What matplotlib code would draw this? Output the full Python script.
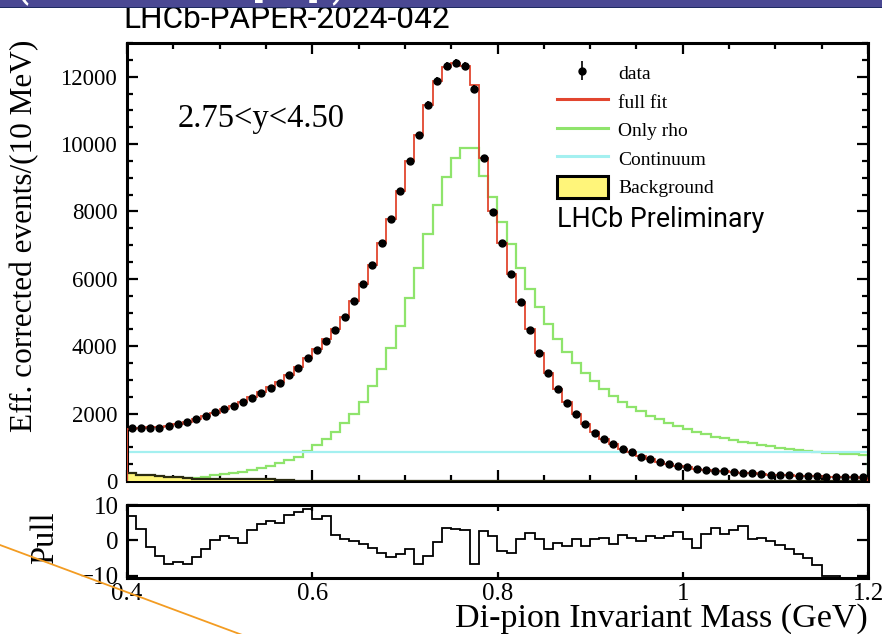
import numpy as np
import matplotlib
matplotlib.use("Agg")
import matplotlib.pyplot as plt
from matplotlib.lines import Line2D
from matplotlib.patches import Patch, Rectangle
from matplotlib.ticker import MultipleLocator, FixedLocator

# ---------------- data (10 MeV bins from 0.40 to 1.20 GeV) ----------------
mass_lo, mass_hi, n_bins = 0.40, 1.20, 80

data = [1564, 1564, 1582, 1582, 1641, 1691, 1742, 1840, 1938, 2036,
        2136, 2234, 2335, 2472, 2620, 2769, 2917, 3145, 3344, 3641,
        3887, 4163, 4481, 4858, 5341, 5837, 6409, 7053, 7774, 8614,
        9496, 10267, 11157, 11878, 12315, 12412, 12329, 11641, 9585, 7973,
        7053, 6133, 5303, 4481, 3789, 3196, 2721, 2323, 1988, 1691,
        1433, 1255, 1098, 950, 861, 721, 653, 564, 513, 454,
        407, 356, 326, 306, 288, 267, 246, 228, 208, 187,
        178, 169, 157, 148, 139, 128, 128, 119, 119, 110]

data_err = [45, 45, 45, 45, 46, 46, 47, 48, 49, 50,
            52, 53, 54, 56, 57, 59, 60, 62, 64, 66,
            68, 70, 72, 75, 78, 81, 84, 88, 92, 96,
            100, 104, 108, 111, 113, 114, 113, 110, 100, 92,
            86, 80, 75, 69, 63, 58, 54, 50, 47, 44,
            41, 39, 37, 35, 34, 32, 31, 30, 29, 28,
            27, 26, 25, 24, 24, 23, 22, 22, 21, 20,
            20, 19, 19, 18, 18, 17, 17, 16, 16, 15]

full_fit = [1540, 1570, 1590, 1610, 1645, 1690, 1740, 1830, 1925, 2030,
            2130, 2240, 2350, 2480, 2630, 2780, 2950, 3150, 3370, 3640,
            3920, 4200, 4520, 4880, 5340, 5850, 6420, 7060, 7780, 8620,
            9500, 10280, 11150, 11880, 12300, 12400, 12320, 11750, 9600, 8000,
            7060, 6140, 5310, 4500, 3800, 3210, 2730, 2330, 1990, 1700,
            1440, 1260, 1100, 960, 860, 730, 650, 570, 510, 455,
            405, 360, 325, 305, 285, 265, 248, 228, 210, 190,
            178, 168, 158, 148, 138, 128, 120, 112, 105, 98]

only_rho = [15, 20, 25, 35, 45, 60, 75, 100, 130, 165,
            200, 240, 280, 330, 385, 450, 525, 610, 720, 880,
            1060, 1246, 1464, 1711, 1988, 2354, 2819, 3314, 3937, 4600,
            5440, 6330, 7320, 8190, 9030, 9594, 9890, 9890, 9050, 8436,
            7677, 7024, 6312, 5688, 5154, 4659, 4214, 3837, 3492, 3196,
            2967, 2721, 2522, 2353, 2205, 2077, 1938, 1831, 1731, 1642,
            1543, 1454, 1385, 1315, 1267, 1217, 1157, 1118, 1068, 1029,
            988, 959, 920, 890, 860, 840, 820, 805, 790, 772]

continuum = [870] * n_bins

background = [250, 190, 170, 140, 125, 110, 100, 60, 58, 56,
              55, 54, 52, 50, 48, 46, 44, 42] + [0] * 62

pull = [6.9, 3.3, -1.9, -4.3, -6.7, -6.2, -6.7, -4.8, -2.4, 0.2,
        1.2, 0.8, -0.7, 2.9, 4.5, 5.4, 5.0, 7.3, 8.1, 9.0,
        6.0, 6.9, 1.6, 0.5, -0.3, -1.0, -2.1, -3.5, -4.8, -3.8,
        -2.4, -6.7, -4.5, -0.5, 3.6, 3.3, 2.9, -6.7, 2.7, 1.3,
        -2.9, -3.5, 0.5, 2.2, 0.5, -2.4, -0.8, -1.6, 0.3, -1.6,
        0.3, 0.8, -1.1, 1.4, 0.8, -0.2, 1.2, 0.8, 1.2, 2.4,
        0.5, -2.1, 1.9, 3.6, 1.7, 2.9, 4.1, 0.5, 0.8, -0.2,
        -1.2, -2.4, -3.8, -4.9, -6.9, -10.0, -10.0, -12.0, -12.0, -12.0]

x_tick_vals = [0.4, 0.6, 0.8, 1.0, 1.2]
x_tick_labels = ["0.4", "0.6", "0.8", "1", "1.2"]
y_tick_vals = [0, 2000, 4000, 6000, 8000, 10000, 12000]
pull_tick_vals = [-10, 0, 10]

# ---------------- figure ----------------
W, H = 882, 634
fig = plt.figure(figsize=(W / 100, H / 100), dpi=100)
fig.patch.set_facecolor("white")
SERIF = ["Liberation Serif", "DejaVu Serif"]
SANS = ["Roboto", "DejaVu Sans"]

def fx(px):
    return px / W

def fy(py):
    return 1 - py / H

ax = fig.add_axes([fx(127), fy(481), fx(868) - fx(127), fy(43) - fy(481)])
axp = fig.add_axes([fx(127), fy(577.5), fx(868) - fx(127), fy(505) - fy(577.5)])

edges = np.linspace(mass_lo, mass_hi, n_bins + 1)
centers = 0.5 * (edges[:-1] + edges[1:])

red = "#e2462f"
green = "#8fe46c"
cyan = "#a4f0f0"
yellow = "#fff57a"

ax.stairs(only_rho, edges, baseline=0, color=green, lw=1.6, zorder=2)
ax.stairs(continuum, edges, baseline=0, color=cyan, lw=1.6, zorder=2)
ax.stairs(background, edges, baseline=0, fill=True, facecolor=yellow, zorder=3)
ax.stairs(background, edges, baseline=0, color="#2b2b10", lw=1.6, zorder=3)
ax.stairs(full_fit, edges, baseline=0, color=red, lw=1.3, zorder=4)
eb = ax.errorbar(centers, data, yerr=data_err, fmt="o", color="black", ms=5.0,
                 elinewidth=1.2, capsize=0, zorder=5)

ax.set_xlim(mass_lo, mass_hi)
ax.set_ylim(0, 13000)
ax.xaxis.set_major_locator(FixedLocator(x_tick_vals))
ax.xaxis.set_minor_locator(MultipleLocator(0.05))
ax.yaxis.set_major_locator(FixedLocator(y_tick_vals))
ax.yaxis.set_minor_locator(MultipleLocator(500))
ax.tick_params(which="both", direction="in", top=True, right=True,
               labelbottom=False, width=1.6)
ax.tick_params(which="major", length=8)
ax.tick_params(which="minor", length=4.5)
ax.tick_params(axis="y", labelsize=16.5, pad=7)
for lab in ax.get_yticklabels():
    lab.set_family(SERIF)
for s in ax.spines.values():
    s.set_linewidth(2.2)

# legend
handles = [eb,
           Line2D([], [], color=red, lw=2.2),
           Line2D([], [], color=green, lw=2.2),
           Line2D([], [], color=cyan, lw=2.2),
           Patch(facecolor=yellow, edgecolor="black", lw=2.2)]
labels = ["data", "full fit", "Only rho", "Continuum", "Background"]
leg = fig.legend(handles, labels, loc="upper left",
                 bbox_to_anchor=(fx(557), fy(62)), frameon=False,
                 prop={"family": SERIF, "size": 14}, handlelength=2.6,
                 handleheight=1.3, handletextpad=0.55, labelspacing=0.38,
                 borderpad=0, borderaxespad=0)

fig.text(fx(178), fy(119), "2.75<y<4.50", family=SERIF, fontsize=23.5,
         va="center", ha="left")
fig.text(fx(557), fy(219), "LHCb Preliminary", family=SANS, fontsize=19.3,
         va="center", ha="left")

# pull panel
axp.stairs(pull, edges, baseline=0, color="black", lw=1.3)
axp.set_xlim(mass_lo, mass_hi)
axp.set_ylim(-10.5, 10)
axp.xaxis.set_major_locator(FixedLocator(x_tick_vals))
axp.set_xticklabels(x_tick_labels)
axp.yaxis.set_major_locator(FixedLocator(pull_tick_vals))
axp.tick_params(which="both", direction="in", top=True, right=True, width=1.6)
axp.tick_params(axis="x", length=4, labelsize=18, pad=4)
axp.tick_params(axis="y", length=8, labelsize=18, pad=6)
for lab in axp.get_xticklabels() + axp.get_yticklabels():
    lab.set_family(SERIF)
for s in axp.spines.values():
    s.set_linewidth(2.2)

# axis titles
fig.text(fx(25), fy(236), "Eff. corrected events/(10 MeV)", rotation=90,
         family=SERIF, fontsize=22.5, ha="center", va="center")
fig.text(fx(45), fy(538), "Pull", rotation=90, family=SERIF, fontsize=23.5,
         ha="center", va="center")
fig.text(fx(868), fy(619), "Di-pion Invariant Mass (GeV)", family=SERIF,
         fontsize=24.5, ha="right", va="center")

# slide decorations
fig.text(fx(123), fy(19), "LHCb-PAPER-2024-042", family=SANS, fontsize=22.8,
         ha="left", va="center")
fig.patches.append(Rectangle((0, fy(6.5)), 1, 6.5 / H, transform=fig.transFigure,
                             facecolor="#4a4893", edgecolor="none", zorder=10))
fig.patches.append(Rectangle((0, fy(8)), 1, 1.5 / H, transform=fig.transFigure,
                             facecolor="#1e2a62", edgecolor="none", zorder=10))
for xp, ch in [(14, "("), (252, "["), (309, "]"), (331, ")")]:
    fig.text(fx(xp), fy(-4), ch, color="white", family=SANS, fontsize=30,
             ha="left", va="baseline", zorder=11)
fig.add_artist(Line2D([0, fx(245)], [fy(545), fy(636)], color="#f39c22",
                      lw=1.3, transform=fig.transFigure, zorder=12))

fig.savefig("out.png", dpi=100)
